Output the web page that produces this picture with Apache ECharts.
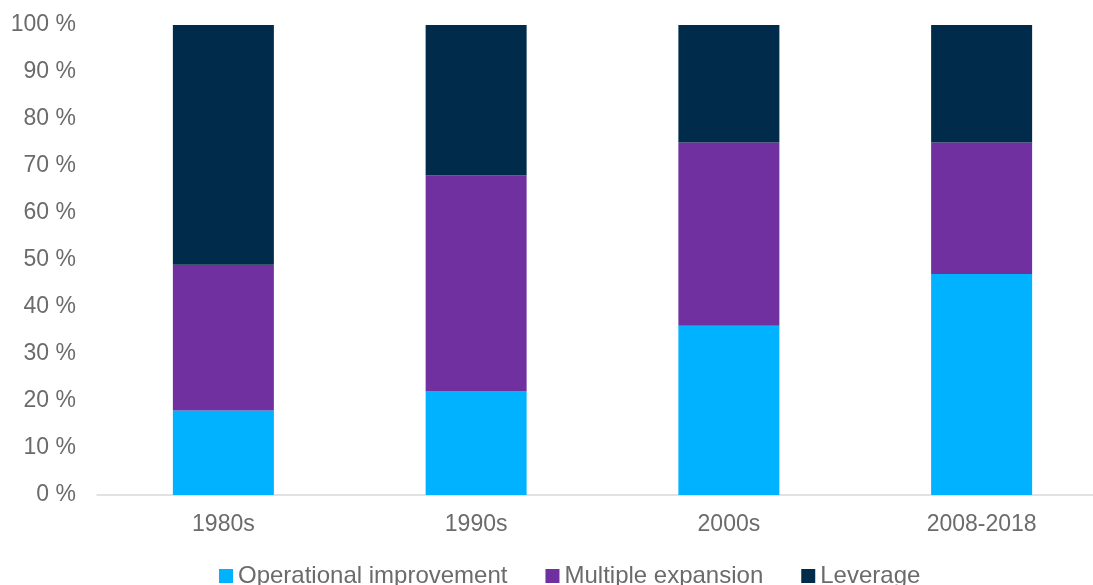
<!DOCTYPE html>
<html>
<head>
<meta charset="utf-8">
<script src="https://cdn.jsdelivr.net/npm/echarts@6/dist/echarts.min.js"></script>
<style>
  html, body { margin: 0; padding: 0; background: #fff; overflow: hidden; }
  #chart { width: 1108px; height: 585px; }
</style>
</head>
<body>
<div id="chart"></div>
<script>
// Decades of private-equity value creation, share by driver (%)
const categories = ['1980s', '1990s', '2000s', '2008-2018'];
const operational = [18, 22, 36, 47];
const multiple = [31, 46, 39, 28];
const leverage = [51, 32, 25, 25];
const yTicks = [0, 10, 20, 30, 40, 50, 60, 70, 80, 90, 100];

const textColor = '#6b6b6b';
const font = 'Liberation Sans, Arial, sans-serif';

const chart = echarts.init(document.getElementById('chart'), null, { renderer: 'canvas' });

function barSeries(name, data, color) {
  return {
    name: name,
    type: 'bar',
    stack: 'total',
    data: data,
    barWidth: 101,
    itemStyle: { color: color },
    emphasis: { disabled: true }
  };
}

chart.setOption({
  animation: false,
  textStyle: { fontFamily: font },
  grid: { left: 97, right: 0, top: 25, bottom: 90, containLabel: false },
  legend: {
    top: 564,
    left: 219,
    padding: 0,
    itemWidth: 14,
    itemHeight: 14,
    itemGap: 38,
    icon: 'rect',
    textStyle: { color: textColor, fontSize: 24, fontFamily: font },
    data: ['Operational improvement', 'Multiple expansion', 'Leverage']
  },
  xAxis: {
    type: 'category',
    data: categories,
    axisLine: { show: true, lineStyle: { color: '#d9d9d9', width: 1.5 } },
    axisTick: { show: false },
    axisLabel: { color: textColor, fontSize: 23, fontFamily: font, margin: 18 }
  },
  yAxis: {
    type: 'value',
    min: yTicks[0],
    max: yTicks[yTicks.length - 1],
    interval: 10,
    axisLine: { show: false },
    axisTick: { show: false },
    splitLine: { show: false },
    axisLabel: {
      color: textColor,
      fontSize: 23,
      fontFamily: font,
      margin: 21,
      formatter: v => v + ' %'
    }
  },
  series: [
    barSeries('Operational improvement', operational, '#00b2ff'),
    barSeries('Multiple expansion', multiple, '#7030a0'),
    barSeries('Leverage', leverage, '#002b4a')
  ]
});
</script>
</body>
</html>
